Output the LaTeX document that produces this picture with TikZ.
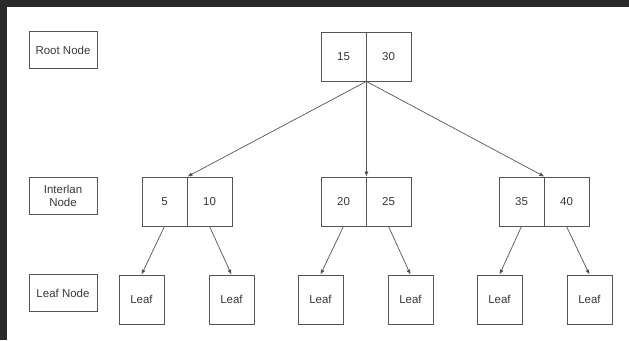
\documentclass[tikz,border=0pt]{standalone}
\usepackage{fontspec}
\setmainfont{Liberation Sans}
\usetikzlibrary{arrows.meta}
\definecolor{frame}{HTML}{2A2A2A}
\definecolor{edge}{HTML}{555555}
\definecolor{ink}{HTML}{3A3A3A}
\tikzset{
  cell/.style={draw=edge, line width=0.8pt, minimum width=45pt, minimum height=49pt,
    inner sep=0pt, font=\fontsize{11.5pt}{13.5pt}\selectfont, text=ink},
  legend/.style={draw=edge, line width=0.8pt, minimum width=68pt, minimum height=36.5pt,
    inner sep=0pt, align=center, font=\fontsize{11.5pt}{13.5pt}\selectfont, text=ink},
  link/.style={draw=edge, line width=0.7pt, -{Latex[length=5pt,width=4pt,fill=black!85]}}
}
\begin{document}
\begin{tikzpicture}[x=1pt, y=-1pt]
  % page and dark frame
  \fill[frame] (0,0) rectangle (629,340);
  \fill[white] (7,7) rectangle (629,340);
  \useasboundingbox (0,0) rectangle (629,340);

  % level legends
  \node[legend] (lroot) at (63,50) {Root Node};
  \node[legend] (linner) at (63,196) {Interlan\\Node};
  \node[legend] (lleaf) at (63,293) {Leaf Node};

  % root node keys
  \node[cell] (r1) at (343.5,56.5) {15};
  \node[cell] (r2) at (388.5,56.5) {30};

  % internal node keys
  \node[cell] (a1) at (164.5,201.5) {5};
  \node[cell] (a2) at (209.5,201.5) {10};
  \node[cell] (b1) at (343.5,201.5) {20};
  \node[cell] (b2) at (388.5,201.5) {25};
  \node[cell] (c1) at (521.5,201.5) {35};
  \node[cell] (c2) at (566.5,201.5) {40};

  % leaves
  \node[cell] (f1) at (141.5,299.5) {Leaf};
  \node[cell] (f2) at (231.5,299.5) {Leaf};
  \node[cell] (f3) at (320.5,299.5) {Leaf};
  \node[cell] (f4) at (410.5,299.5) {Leaf};
  \node[cell] (f5) at (499.5,299.5) {Leaf};
  \node[cell] (f6) at (589.5,299.5) {Leaf};

  % root to internal nodes
  \draw[link] (r1.south east) -- (a1.north east);
  \draw[link] (r1.south east) -- (b1.north east);
  \draw[link] (r1.south east) -- (c1.north east);

  % internal nodes to leaves
  \draw[link] (a1.south) -- (f1.north);
  \draw[link] (a2.south) -- (f2.north);
  \draw[link] (b1.south) -- (f3.north);
  \draw[link] (b2.south) -- (f4.north);
  \draw[link] (c1.south) -- (f5.north);
  \draw[link] (c2.south) -- (f6.north);
\end{tikzpicture}
\end{document}
